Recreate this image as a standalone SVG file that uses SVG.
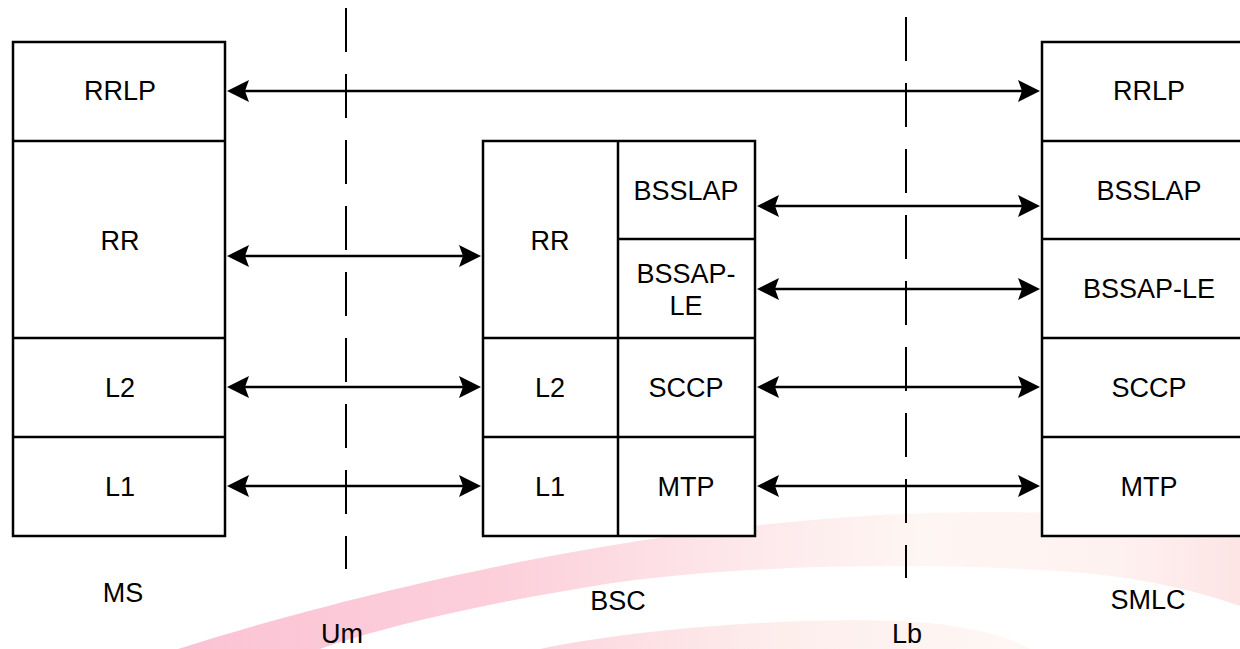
<svg xmlns="http://www.w3.org/2000/svg" width="1240" height="649" viewBox="0 0 1240 649">
  <style>
    .box { fill: #ffffff; stroke: #000000; stroke-width: 2.5; }
    .div { stroke: #000000; stroke-width: 2.5; fill: none; }
    .lbl { font-family: "Liberation Sans", Arial, sans-serif; font-size: 27px; fill: #000000; text-anchor: middle; }
    .link { stroke: #000000; stroke-width: 2.5; fill: none; marker-start: url(#head); marker-end: url(#head); }
    .iface { stroke: #000000; stroke-width: 2; stroke-dasharray: 44 22; fill: none; }
  </style>
  <defs>
    <marker id="head" viewBox="0 0 22 22" refX="18" refY="11" markerWidth="22" markerHeight="22" markerUnits="userSpaceOnUse" orient="auto-start-reverse">
      <path d="M0,0 L22,11 L0,22 L4,11 Z" fill="#000000"/>
    </marker>
    <linearGradient id="swoosh1" gradientUnits="userSpaceOnUse" x1="180" y1="0" x2="1240" y2="0">
      <stop offset="0" stop-color="#fbc3d5"/>
      <stop offset="0.3" stop-color="#fccfdb"/>
      <stop offset="0.5" stop-color="#fde5e9"/>
      <stop offset="0.7" stop-color="#fef6f3"/>
      <stop offset="0.88" stop-color="#fef2f0"/>
      <stop offset="1" stop-color="#fde4e5"/>
    </linearGradient>
    <linearGradient id="swoosh2" gradientUnits="userSpaceOnUse" x1="540" y1="0" x2="1030" y2="0">
      <stop offset="0" stop-color="#fcd6df"/>
      <stop offset="0.5" stop-color="#fdeeec"/>
      <stop offset="1" stop-color="#fef8f5"/>
    </linearGradient>
  </defs>

  <rect x="0" y="0" width="1240" height="649" fill="#ffffff"/>

  <!-- decorative swooshes along the bottom -->
  <g id="background">
    <path d="M178,649 C380,585 700,510 1000,512 C1120,513 1200,518 1240,522 L1240,606 C1180,585 1120,574 1040,570 C900,562 720,566 600,585 C480,604 380,628 320,649 Z" fill="url(#swoosh1)"/>
    <path d="M540,649 C640,628 800,617 900,621 C960,624 1005,634 1030,649 Z" fill="url(#swoosh2)"/>
  </g>

  <!-- interface boundaries -->
  <g id="interfaces">
    <line class="iface" x1="346" y1="8" x2="346" y2="569"/>
    <line class="iface" x1="906" y1="17" x2="906" y2="578"/>
    <text class="lbl" x="342" y="643">Um</text>
    <text class="lbl" x="907" y="643">Lb</text>
  </g>

  <!-- MS protocol stack -->
  <g id="ms">
    <rect class="box" x="13" y="42" width="212" height="494"/>
    <line class="div" x1="13" y1="141" x2="225" y2="141"/>
    <line class="div" x1="13" y1="338" x2="225" y2="338"/>
    <line class="div" x1="13" y1="437" x2="225" y2="437"/>
    <text class="lbl" x="120" y="100">RRLP</text>
    <text class="lbl" x="120" y="250">RR</text>
    <text class="lbl" x="120" y="397">L2</text>
    <text class="lbl" x="120" y="496">L1</text>
    <text class="lbl" x="123" y="602">MS</text>
  </g>

  <!-- BSC protocol stack -->
  <g id="bsc">
    <rect class="box" x="483" y="141" width="272" height="395"/>
    <line class="div" x1="618" y1="141" x2="618" y2="536"/>
    <line class="div" x1="618" y1="239" x2="755" y2="239"/>
    <line class="div" x1="483" y1="338" x2="755" y2="338"/>
    <line class="div" x1="483" y1="437" x2="755" y2="437"/>
    <text class="lbl" x="550" y="250">RR</text>
    <text class="lbl" x="686" y="200">BSSLAP</text>
    <text class="lbl" x="686" y="283">BSSAP-</text>
    <text class="lbl" x="686" y="315">LE</text>
    <text class="lbl" x="550" y="397">L2</text>
    <text class="lbl" x="686" y="397">SCCP</text>
    <text class="lbl" x="550" y="496">L1</text>
    <text class="lbl" x="686" y="496">MTP</text>
    <text class="lbl" x="618" y="610">BSC</text>
  </g>

  <!-- SMLC protocol stack -->
  <g id="smlc">
    <rect class="box" x="1042" y="42" width="214" height="494"/>
    <line class="div" x1="1042" y1="141" x2="1256" y2="141"/>
    <line class="div" x1="1042" y1="239" x2="1256" y2="239"/>
    <line class="div" x1="1042" y1="338" x2="1256" y2="338"/>
    <line class="div" x1="1042" y1="437" x2="1256" y2="437"/>
    <text class="lbl" x="1149" y="100">RRLP</text>
    <text class="lbl" x="1149" y="200">BSSLAP</text>
    <text class="lbl" x="1149" y="298">BSSAP-LE</text>
    <text class="lbl" x="1149" y="397">SCCP</text>
    <text class="lbl" x="1149" y="496">MTP</text>
    <text class="lbl" x="1148" y="609">SMLC</text>
  </g>

  <!-- peer protocol connectors -->
  <g id="connectors">
    <line class="link" x1="231" y1="91" x2="1036" y2="91"/>
    <line class="link" x1="231" y1="256" x2="477" y2="256"/>
    <line class="link" x1="231" y1="387" x2="477" y2="387"/>
    <line class="link" x1="231" y1="486" x2="477" y2="486"/>
    <line class="link" x1="761" y1="206" x2="1036" y2="206"/>
    <line class="link" x1="761" y1="289" x2="1036" y2="289"/>
    <line class="link" x1="761" y1="387" x2="1036" y2="387"/>
    <line class="link" x1="761" y1="486" x2="1036" y2="486"/>
  </g>
</svg>
